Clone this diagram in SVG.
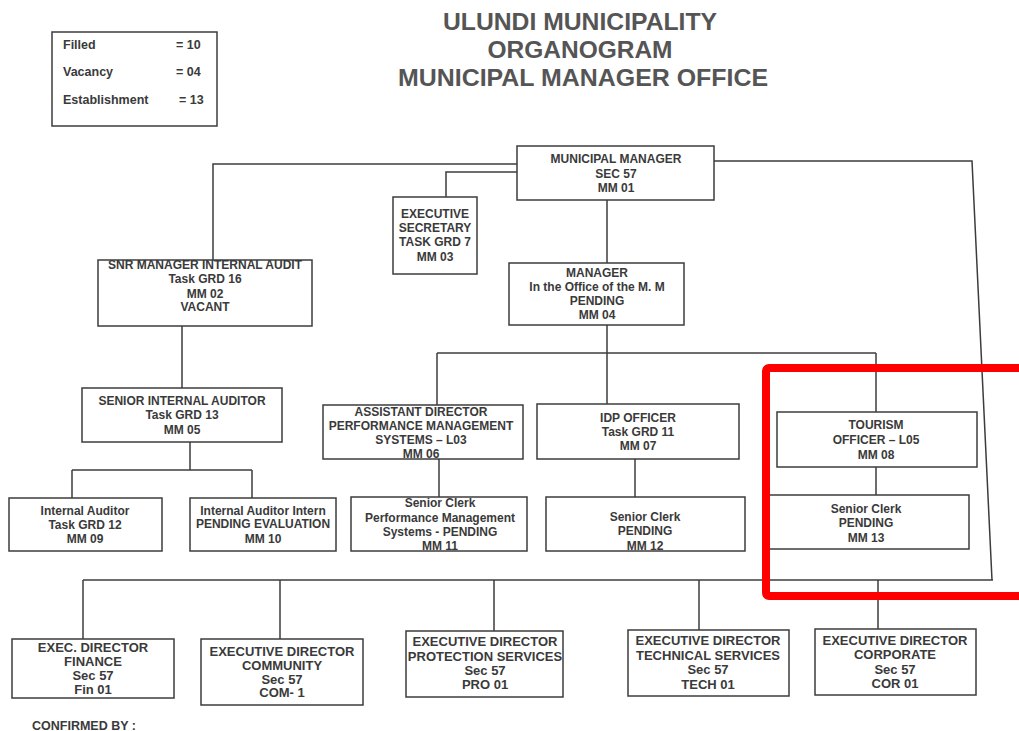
<svg xmlns="http://www.w3.org/2000/svg" width="1019" height="731" viewBox="0 0 1019 731">
<style>
.bg{fill:#ffffff}
.box{fill:#ffffff;stroke:#3c3c3c;stroke-width:1.5}
.t{font-family:"Liberation Sans",Arial,sans-serif;font-size:12px;font-weight:bold;fill:#3a3a3a;text-anchor:middle}
.b{font-size:13px}
.lg{font-family:"Liberation Sans",Arial,sans-serif;font-size:12.5px;font-weight:bold;fill:#3a3a3a}
.title{font-family:"Liberation Sans",Arial,sans-serif;font-size:24px;font-weight:bold;fill:#555555;text-anchor:middle}
.con{fill:none;stroke:#3c3c3c;stroke-width:1.5}
.hl{fill:none;stroke:#ff0000;stroke-width:8}
</style>
<rect class="bg" x="0" y="0" width="1019" height="731"/>
<g id="title">
<text class="title" x="580" y="30" textLength="274" lengthAdjust="spacingAndGlyphs">ULUNDI MUNICIPALITY</text>
<text class="title" x="580" y="58" textLength="185" lengthAdjust="spacingAndGlyphs">ORGANOGRAM</text>
<text class="title" x="583" y="86" textLength="370" lengthAdjust="spacingAndGlyphs">MUNICIPAL MANAGER OFFICE</text>
</g>
<g id="legend">
<rect class="box" x="52" y="32" width="165" height="94"/>
<text class="lg" x="63" y="49">Filled</text><text class="lg" x="176" y="49">= 10</text>
<text class="lg" x="63" y="76">Vacancy</text><text class="lg" x="176" y="76">= 04</text>
<text class="lg" x="63" y="104">Establishment</text><text class="lg" x="179" y="104">= 13</text>
</g>
<g id="connectors">
<polyline class="con" points="517,164 213,164 213,260"/>
<polyline class="con" points="517,172 446,172 446,197"/>
<line class="con" x1="607" y1="200" x2="607" y2="263"/>
<polyline class="con" points="714,161 972,161 992,580"/>
<line class="con" x1="83" y1="580" x2="993" y2="580"/>
<line class="con" x1="83" y1="580" x2="83" y2="639"/>
<line class="con" x1="280" y1="580" x2="280" y2="639"/>
<line class="con" x1="494" y1="580" x2="494" y2="631"/>
<line class="con" x1="699" y1="580" x2="699" y2="630"/>
<line class="con" x1="878" y1="580" x2="878" y2="629"/>
<line class="con" x1="182" y1="326" x2="182" y2="388"/>
<line class="con" x1="190" y1="442" x2="190" y2="470"/>
<line class="con" x1="72" y1="470" x2="252" y2="470"/>
<line class="con" x1="72" y1="470" x2="72" y2="498"/>
<line class="con" x1="252" y1="470" x2="252" y2="498"/>
<line class="con" x1="607" y1="325" x2="607" y2="353"/>
<line class="con" x1="437" y1="353" x2="876" y2="353"/>
<line class="con" x1="437" y1="353" x2="437" y2="405"/>
<line class="con" x1="607" y1="353" x2="607" y2="404"/>
<line class="con" x1="876" y1="353" x2="876" y2="412"/>
<line class="con" x1="439" y1="459" x2="439" y2="497"/>
<line class="con" x1="635" y1="459" x2="635" y2="497"/>
<line class="con" x1="876" y1="467" x2="876" y2="495"/>
</g>
<g id="mm01">
<rect class="box" x="517" y="146" width="197" height="54"/>
<text class="t" x="616" y="163">MUNICIPAL MANAGER</text>
<text class="t" x="616" y="178">SEC 57</text>
<text class="t" x="616" y="192">MM 01</text>
</g>
<g id="mm03">
<rect class="box" x="393" y="197" width="84" height="77"/>
<text class="t" x="435" y="218">EXECUTIVE</text>
<text class="t" x="435" y="232">SECRETARY</text>
<text class="t" x="435" y="246">TASK GRD 7</text>
<text class="t" x="435" y="261">MM 03</text>
</g>
<g id="mm04">
<rect class="box" x="509" y="263" width="175" height="62"/>
<text class="t" x="597" y="277">MANAGER</text>
<text class="t" x="597" y="291">In the Office of the M. M</text>
<text class="t" x="597" y="305">PENDING</text>
<text class="t" x="597" y="319">MM 04</text>
</g>
<g id="mm02">
<rect class="box" x="98" y="260" width="214" height="66"/>
<text class="t" x="205" y="269">SNR MANAGER INTERNAL AUDIT</text>
<text class="t" x="205" y="283">Task GRD 16</text>
<text class="t" x="205" y="298">MM 02</text>
<text class="t" x="205" y="311">VACANT</text>
</g>
<g id="mm05">
<rect class="box" x="82" y="388" width="200" height="54"/>
<text class="t" x="182" y="405">SENIOR INTERNAL AUDITOR</text>
<text class="t" x="182" y="419">Task GRD 13</text>
<text class="t" x="182" y="434">MM 05</text>
</g>
<g id="mm09">
<rect class="box" x="9" y="498" width="153" height="53"/>
<text class="t" x="85" y="515">Internal Auditor</text>
<text class="t" x="85" y="529">Task GRD 12</text>
<text class="t" x="85" y="543">MM 09</text>
</g>
<g id="mm10">
<rect class="box" x="190" y="498" width="146" height="53"/>
<text class="t" x="263" y="515">Internal Auditor Intern</text>
<text class="t" x="263" y="528">PENDING EVALUATION</text>
<text class="t" x="263" y="543">MM 10</text>
</g>
<g id="mm06">
<rect class="box" x="323" y="405" width="200" height="54"/>
<text class="t" x="421" y="416">ASSISTANT DIRECTOR</text>
<text class="t" x="421" y="430">PERFORMANCE MANAGEMENT</text>
<text class="t" x="421" y="444">SYSTEMS  – L03</text>
<text class="t" x="421" y="458">MM 06</text>
</g>
<g id="mm11">
<rect class="box" x="351" y="497" width="176" height="54"/>
<text class="t" x="440" y="507">Senior Clerk</text>
<text class="t" x="440" y="522">Performance Management</text>
<text class="t" x="440" y="536">Systems  - PENDING</text>
<text class="t" x="440" y="550">MM 11</text>
</g>
<g id="mm07">
<rect class="box" x="537" y="404" width="202" height="55"/>
<text class="t" x="638" y="422">IDP OFFICER</text>
<text class="t" x="638" y="436">Task GRD 11</text>
<text class="t" x="638" y="450">MM 07</text>
</g>
<g id="mm12">
<rect class="box" x="546" y="497" width="199" height="54"/>
<text class="t" x="645" y="521">Senior Clerk</text>
<text class="t" x="645" y="535">PENDING</text>
<text class="t" x="645" y="550">MM 12</text>
</g>
<g id="mm08">
<rect class="box" x="777" y="412" width="200" height="55"/>
<text class="t" x="876" y="429">TOURISM</text>
<text class="t" x="876" y="444">OFFICER – L05</text>
<text class="t" x="876" y="459">MM 08</text>
</g>
<g id="mm13">
<rect class="box" x="769" y="495" width="200" height="54"/>
<text class="t" x="866" y="513">Senior Clerk</text>
<text class="t" x="866" y="527">PENDING</text>
<text class="t" x="866" y="542">MM 13</text>
</g>
<g id="fin01">
<rect class="box" x="12" y="639" width="162" height="59"/>
<text class="t b" x="93" y="652">EXEC. DIRECTOR</text>
<text class="t b" x="93" y="666">FINANCE</text>
<text class="t b" x="93" y="680">Sec 57</text>
<text class="t b" x="93" y="694">Fin 01</text>
</g>
<g id="com1">
<rect class="box" x="201" y="639" width="162" height="66"/>
<text class="t b" x="282" y="656">EXECUTIVE  DIRECTOR</text>
<text class="t b" x="282" y="670">COMMUNITY</text>
<text class="t b" x="282" y="684">Sec 57</text>
<text class="t b" x="282" y="697">COM- 1</text>
</g>
<g id="pro01">
<rect class="box" x="406" y="631" width="157" height="66"/>
<text class="t b" x="485" y="646">EXECUTIVE  DIRECTOR</text>
<text class="t b" x="485" y="661">PROTECTION SERVICES</text>
<text class="t b" x="485" y="675">Sec 57</text>
<text class="t b" x="485" y="689">PRO 01</text>
</g>
<g id="tech01">
<rect class="box" x="628" y="630" width="161" height="66"/>
<text class="t b" x="708" y="645">EXECUTIVE  DIRECTOR</text>
<text class="t b" x="708" y="660">TECHNICAL SERVICES</text>
<text class="t b" x="708" y="674">Sec 57</text>
<text class="t b" x="708" y="689">TECH 01</text>
</g>
<g id="cor01">
<rect class="box" x="815" y="629" width="161" height="66"/>
<text class="t b" x="895" y="645">EXECUTIVE  DIRECTOR</text>
<text class="t b" x="895" y="659">CORPORATE</text>
<text class="t b" x="895" y="674">Sec 57</text>
<text class="t b" x="895" y="688">COR 01</text>
</g>
<g id="footer">
<text class="lg" x="32" y="730">CONFIRMED BY :</text>
</g>
<g id="highlight">
<rect class="hl" x="766" y="368" width="300" height="228" rx="3"/>
</g>
</svg>
